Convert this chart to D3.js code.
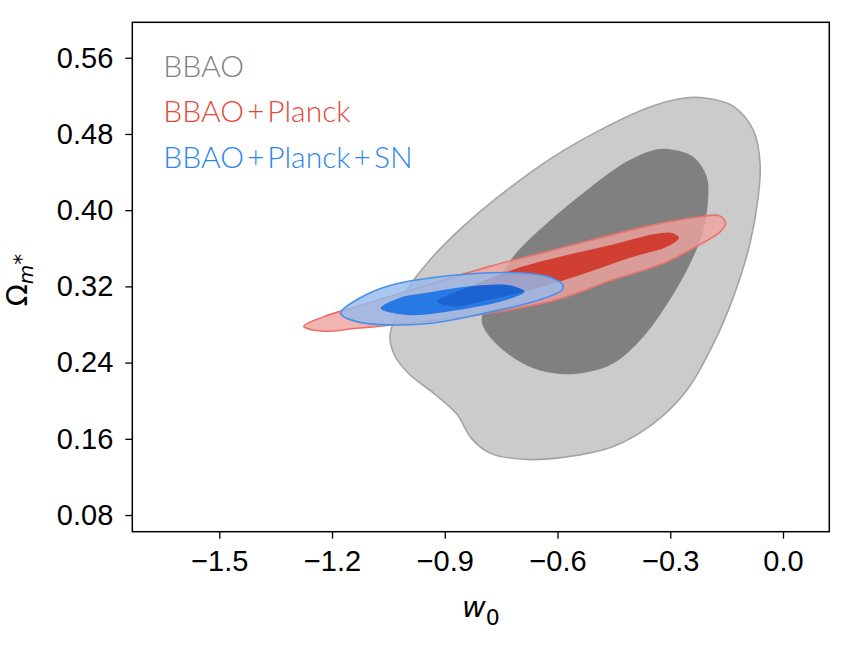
<!DOCTYPE html>
<html>
<head>
<meta charset="utf-8">
<script src="https://cdn.jsdelivr.net/npm/d3@7"></script>
<style>
  body { margin: 0; background: #fff; }
  svg text { font-family: "Liberation Sans", Arial, sans-serif; }
</style>
</head>
<body>
<div id="chart"></div>
<script>
// contour outlines as [w0, Omega_m] pairs
const bbaoOuter = [
  [-0.212, 0.518], [-0.132, 0.509], [-0.079, 0.484], [-0.061, 0.449], [-0.066, 0.414],
  [-0.088, 0.365], [-0.132, 0.309], [-0.185, 0.260], [-0.256, 0.211], [-0.345, 0.176],
  [-0.452, 0.152], [-0.576, 0.141], [-0.691, 0.1385], [-0.780, 0.145], [-0.830, 0.161],
  [-0.868, 0.186], [-0.930, 0.208], [-0.995, 0.228], [-1.034, 0.248], [-1.046, 0.267],
  [-1.032, 0.288], [-1.001, 0.316], [-0.939, 0.348], [-0.851, 0.383], [-0.735, 0.421],
  [-0.611, 0.456], [-0.487, 0.484], [-0.363, 0.507], [-0.274, 0.517]
];
const bbaoInner = [
  [-0.301, 0.464], [-0.239, 0.456], [-0.203, 0.435], [-0.199, 0.414], [-0.212, 0.379],
  [-0.247, 0.344], [-0.301, 0.306], [-0.372, 0.267], [-0.452, 0.239], [-0.522, 0.230],
  [-0.593, 0.228], [-0.664, 0.234], [-0.735, 0.250], [-0.788, 0.271], [-0.802, 0.285],
  [-0.780, 0.309], [-0.718, 0.351], [-0.629, 0.386], [-0.522, 0.421], [-0.416, 0.451],
  [-0.345, 0.463]
];
const planckOuter = [
  [-1.275, 0.278], [-1.223, 0.288], [-1.134, 0.299], [-0.957, 0.320], [-0.780, 0.341],
  [-0.602, 0.359], [-0.363, 0.383], [-0.230, 0.3925], [-0.168, 0.394], [-0.1525, 0.386],
  [-0.168, 0.377], [-0.230, 0.362], [-0.319, 0.344], [-0.452, 0.327], [-0.602, 0.306],
  [-0.780, 0.292], [-0.957, 0.283], [-1.134, 0.276], [-1.223, 0.273]
];
const planckInner = [
  [-0.921, 0.304], [-0.833, 0.320], [-0.700, 0.340], [-0.585, 0.352], [-0.452, 0.364],
  [-0.341, 0.375], [-0.295, 0.376], [-0.277, 0.371], [-0.306, 0.362], [-0.407, 0.350],
  [-0.540, 0.332], [-0.673, 0.316], [-0.806, 0.304], [-0.873, 0.299]
];
const snOuter = [
  [-1.177, 0.292], [-1.134, 0.306], [-1.046, 0.321], [-0.868, 0.332], [-0.691, 0.334],
  [-0.620, 0.3295], [-0.585, 0.321], [-0.589, 0.316], [-0.647, 0.306], [-0.780, 0.293],
  [-0.957, 0.2805], [-1.134, 0.283]
];
const snInner = [
  [-1.0705, 0.297], [-1.019, 0.308], [-0.957, 0.3127], [-0.824, 0.3204], [-0.7265, 0.321],
  [-0.688, 0.3144], [-0.735, 0.306], [-0.868, 0.295], [-1.001, 0.290]
];

const xTicks = [-1.5, -1.2, -0.9, -0.6, -0.3, 0.0];
const yTicks = [0.08, 0.16, 0.24, 0.32, 0.40, 0.48, 0.56];
const legendNames = [["BBAO"], ["BBAO", "Planck"], ["BBAO", "Planck", "SN"]];
const legendColors = ["#808080", "#e4483b", "#2b86ec"];

const margin = { top: 22.3, right: 22.7, bottom: 116.3, left: 132.3 },
  width = 852 - margin.left - margin.right,
  height = 648 - margin.top - margin.bottom;

const svg = d3.select("#chart").append("svg")
  .attr("width", 852)
  .attr("height", 648)
  .append("g")
  .attr("transform", `translate(${margin.left},${margin.top})`);

const x = d3.scaleLinear().domain([-1.7315, 0.1232]).range([0, width]);
const y = d3.scaleLinear().domain([0.0625, 0.5972]).range([height, 0]);

const shape = d3.line()
  .x(d => x(d[0]))
  .y(d => y(d[1]))
  .curve(d3.curveCatmullRomClosed.alpha(0.5));

// the filled regions, back to front
const layers = [
  { pts: bbaoOuter, fill: "#cbcbcb", op: 1, stroke: "#a4a4a4" },
  { pts: bbaoInner, fill: "#808080", op: 1, stroke: "none" },
  { pts: planckOuter, fill: "#f0a29e", op: 0.8, stroke: "#e8726c" },
  { pts: planckInner, fill: "#d03c2e", op: 0.97, stroke: "none" },
  { pts: snOuter, fill: "#93baee", op: 0.8, stroke: "#4a8fe8" },
  { pts: snInner, fill: "#1c73e4", op: 0.92, stroke: "none" }
];

svg.selectAll("path.region")
  .data(layers)
  .enter()
  .append("path")
  .attr("class", "region")
  .attr("d", d => shape(d.pts))
  .attr("fill", d => d.fill)
  .attr("fill-opacity", d => d.op)
  .attr("stroke", d => d.stroke)
  .attr("stroke-width", 1.6);

// where the two inner regions overlap the blue looks darker
svg.append("clipPath")
  .attr("id", "snclip")
  .append("path")
  .attr("d", shape(snInner));
svg.append("path")
  .attr("d", shape(planckInner))
  .attr("clip-path", "url(#snclip)")
  .attr("fill", "#1a60cf")
  .attr("fill-opacity", 0.9);

// axes
const xAxis = svg.append("g")
  .attr("transform", `translate(0,${height})`)
  .call(d3.axisBottom(x).tickValues(xTicks).tickFormat(d3.format(".1f")).tickSize(7).tickPadding(12));
const yAxis = svg.append("g")
  .call(d3.axisLeft(y).tickValues(yTicks).tickFormat(d3.format(".2f")).tickSize(7).tickPadding(12));

[xAxis, yAxis].forEach(a => {
  a.select(".domain").remove();
  a.selectAll("line").attr("stroke", "#000").attr("stroke-width", 1.3);
  a.selectAll("text")
    .style("font-family", "'Liberation Sans', Arial, sans-serif")
    .style("font-size", "29px")
    .attr("fill", "#000");
});

// frame
svg.append("rect")
  .attr("width", width)
  .attr("height", height)
  .attr("fill", "none")
  .attr("stroke", "#000")
  .attr("stroke-width", 1.5);

// legend text
const leg = svg.selectAll("text.legend")
  .data(legendNames)
  .enter()
  .append("text")
  .attr("class", "legend")
  .attr("x", 31)
  .attr("y", (d, i) => 54.4 + i * 45.8)
  .attr("fill", (d, i) => legendColors[i])
  .style("font-family", "Lato, 'Open Sans', sans-serif")
  .style("font-weight", 300)
  .style("font-size", "30px");

leg.each(function (d) {
  const t = d3.select(this);
  d.forEach((part, j) => {
    if (j > 0) t.append("tspan").attr("dx", 3).text("+");
    t.append("tspan").attr("dx", j > 0 ? 3 : 0).text(part);
  });
});

// axis titles
const xt = svg.append("text")
  .attr("x", width / 2)
  .attr("y", 594.4)
  .attr("text-anchor", "middle")
  .style("font-family", "'DejaVu Sans', sans-serif")
  .style("font-size", "29px")
  .style("font-style", "italic");
xt.append("tspan").text("w");
xt.append("tspan").attr("dy", 8).style("font-size", "22px").style("font-style", "normal").text("0");

const yt = svg.append("text")
  .attr("transform", `translate(${27 - margin.left},${height / 2 + 3}) rotate(-90)`)
  .attr("text-anchor", "middle")
  .style("font-family", "'DejaVu Sans', sans-serif")
  .style("font-size", "29px");
yt.append("tspan").text("Ω");
yt.append("tspan").attr("dy", 6).style("font-size", "20px").style("font-style", "italic").text("m");
yt.append("tspan").attr("dy", -4).style("font-size", "22px").text("*");
</script>
</body>
</html>
